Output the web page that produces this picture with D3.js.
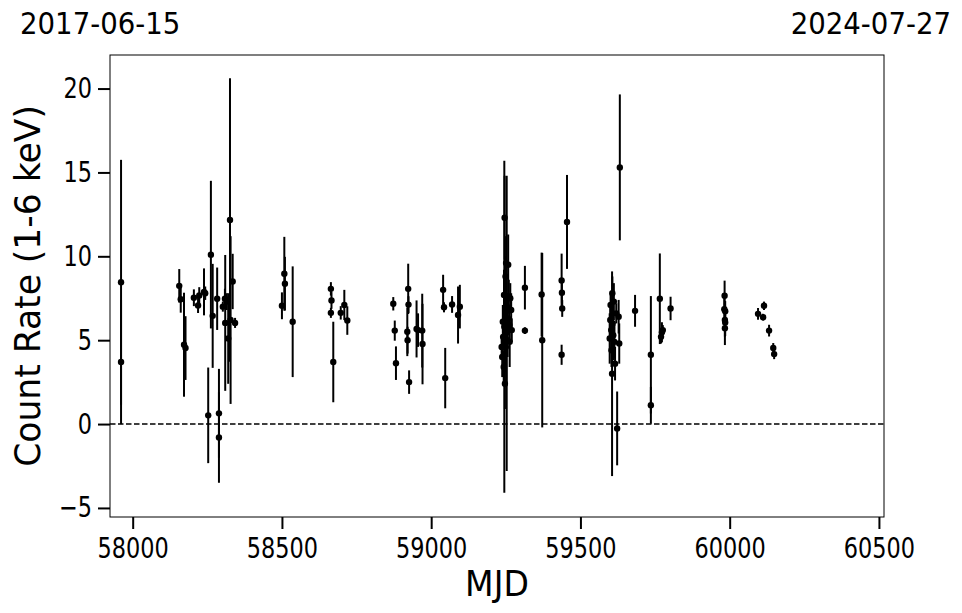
<!DOCTYPE html>
<html><head><meta charset="utf-8">
<script src="https://cdn.jsdelivr.net/npm/d3@7"></script>
<style>body{margin:0;background:#fff}svg{display:block}text{font-family:"DejaVu Sans",sans-serif;fill:#000}</style>
</head><body>
<svg id="c" width="962" height="613"></svg>
<script>
const mjd = [57961,57961,58156,58161,58172,58177,58205,58219,58223,58239,58243,58253,58262,58268,58283,58289,58289,
58302,58309,58310,58315,58320,58326,58328,58335,58343,
58500,58508,58510,58536,58664,58666,58664,58672,58697,58709,58719,
58873,58878,58882,58920,58921,58923,58924,58926,58951,58956,58970,58971,59040,59043,59047,59070,59090,59096,
59236,59238,59240,59241,59243,59244,59245,59246,59247,59248,59249,59250,59251,59252,59253,59254,59256,59257,59258,59260,59262,59263,59265,59268,59270,
59314,59314,59370,59372,59437,59438,59439,59437,59455,
59598,59600,59601,59603,59604,59606,59607,59608,59610,59612,59614,59616,59620,59623,59628,59630,59632,
59683,59736,59736,59766,59770,59773,59776,59802,
59982,59983,59984,59985,59984,59985,60095,60112,60115,60132,60146,60149];
const rate = [8.45,3.7,8.24,7.44,4.73,4.53,7.53,7.07,7.66,7.88,7.8,0.52,10.1,6.45,7.47,0.64,-0.8,
7.0,7.47,6.03,7.3,5.1,12.16,6.2,8.5,6.03,
7.05,8.96,8.37,6.1,8.06,7.37,6.63,3.7,6.63,7.1,6.17,
7.17,5.57,3.63,5.5,5.0,8.06,7.12,2.5,5.67,5.6,5.57,4.77,8.0,6.96,2.74,7.13,6.5,7.0,
4.6,4.0,6.1,5.2,3.4,7.7,5.8,12.3,2.4,6.6,8.8,4.6,9.6,5.5,6.0,7.0,5.0,6.3,9.5,7.6,5.9,4.9,7.5,6.8,5.6,
8.13,5.57,7.72,5.0,8.56,7.83,6.89,4.13,12.05,
5.1,6.2,7.1,5.6,4.4,3.0,7.8,6.0,5.3,7.3,4.9,3.6,6.6,-0.26,6.4,4.8,15.3,
6.75,4.13,1.12,7.47,5.2,5.47,5.6,6.89,
6.85,7.65,6.21,6.73,5.71,6.05,6.57,6.37,7.05,5.57,4.53,4.17];
const err = [7.3,3.7,1.0,0.8,3.1,1.9,0.5,0.45,0.5,1.4,0.4,2.85,4.4,3.1,1.86,2.65,2.7,
0.3,0.6,4.05,0.5,2.7,8.45,5.0,1.65,0.3,
0.8,2.2,1.6,3.3,0.4,0.5,0.3,2.4,0.4,0.9,0.85,
0.4,0.6,1.0,1.45,0.8,1.5,0.5,0.7,1.7,1.0,2.2,2.4,0.9,0.3,1.8,0.5,1.7,1.3,
0.6,1.2,1.0,0.8,1.0,1.5,9.9,2.5,1.5,2.0,1.2,1.5,1.6,3.0,8.8,0.8,1.0,1.0,1.8,1.0,0.8,1.5,0.9,1.0,0.7,
1.3,0.2,2.5,5.2,1.6,0.6,0.5,0.6,2.8,
1.5,1.0,0.8,1.2,1.0,6.1,1.0,0.8,1.5,1.1,1.0,1.0,0.6,2.2,1.0,1.2,4.35,
0.95,3.5,1.1,2.7,0.4,0.6,0.3,0.7,
0.9,0.9,1.0,0.6,1.0,0.8,0.35,0.2,0.25,0.35,0.3,0.3];
const xTicks = [58000,58500,59000,59500,60000,60500];
const yTicks = [-5,0,5,10,15,20];
const startDate = "2017-06-15", endDate = "2024-07-27";

const svg = d3.select("#c");
const L=110,R=884,T=55,B=517;
const x = d3.scaleLinear().domain([57924,60517]).range([L,R]);
const y = d3.scaleLinear().domain([-5.54,22.0]).range([B,T]);
const data = mjd.map((m,i)=>({m, r:rate[i], e:err[i]}));

svg.append("line").attr("x1",L).attr("x2",R).attr("y1",y(0)).attr("y2",y(0))
  .attr("stroke","#000").attr("stroke-width",1.5).attr("stroke-dasharray","5.5,2.5");

svg.append("clipPath").attr("id","clp").append("rect").attr("x",L).attr("y",T).attr("width",R-L).attr("height",B-T);
const g = svg.append("g").attr("clip-path","url(#clp)");
g.selectAll("line.eb").data(data).join("line").attr("class","eb")
  .attr("x1",d=>x(d.m)).attr("x2",d=>x(d.m))
  .attr("y1",d=>y(d.r-d.e)).attr("y2",d=>y(d.r+d.e))
  .attr("stroke","#000").attr("stroke-width",2);
g.selectAll("circle").data(data).join("circle")
  .attr("cx",d=>x(d.m)).attr("cy",d=>y(d.r)).attr("r",3.2).attr("fill","#000");

svg.append("rect").attr("x",L).attr("y",T).attr("width",R-L).attr("height",B-T)
  .attr("fill","none").attr("stroke","#000").attr("stroke-width",1);

const SX = 0.8;
const xa = svg.append("g").attr("transform",`translate(0,${B})`)
  .call(d3.axisBottom(x).tickValues(xTicks).tickSize(12).tickPadding(9).tickFormat(d3.format("d")));
const ya = svg.append("g").attr("transform",`translate(${L},0)`)
  .call(d3.axisLeft(y).tickValues(yTicks).tickSize(12).tickPadding(6).tickFormat(d=>d<0?"\u2212"+Math.abs(d):d));
[xa,ya].forEach(a=>{
  a.select(".domain").remove();
  a.selectAll(".tick line").attr("stroke-width",2);
  a.selectAll(".tick text").attr("font-size",28).attr("font-family","DejaVu Sans")
    .attr("transform",`scale(${SX},1)`)
    .attr("x",function(){return (+d3.select(this).attr("x")||0)/SX;});
});

function label(txt,tx,ty,rot,size,sx,anchor){
  svg.append("text").attr("transform",`translate(${tx},${ty}) rotate(${rot}) scale(${sx},1)`)
    .attr("text-anchor",anchor).attr("font-size",size).text(txt);
}
label("MJD",(L+R)/2,596,0,36,0.92,"middle");
label("Count Rate (1-6 keV)",40,(T+B)/2,-90,36,0.96,"middle");
label(startDate,20,34,0,30,0.92,"start");
label(endDate,951,34,0,30,0.92,"end");
</script>
</body></html>
